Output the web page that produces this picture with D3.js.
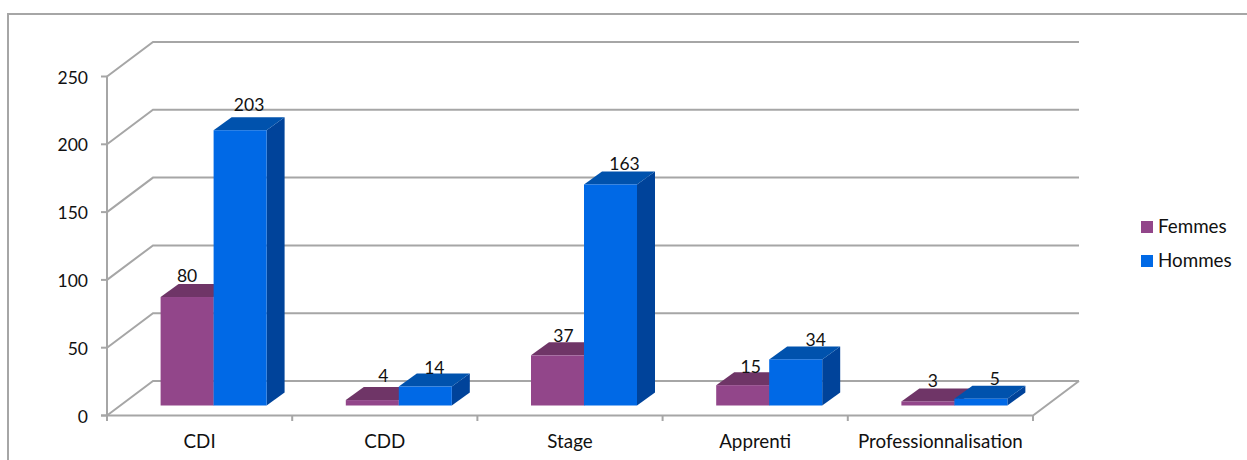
<!DOCTYPE html>
<html>
<head>
<meta charset="utf-8">
<script src="https://cdn.jsdelivr.net/npm/d3@7"></script>
<style>
  html, body { margin: 0; background: #fff; }
  text { font-family: Lato, "Noto Sans", sans-serif; font-size: 18.8px; fill: #111; }
  text.num { font-size: 17.5px; }
</style>
</head>
<body>
<svg id="chart" width="1247" height="460"></svg>
<script>
'use strict';

const categories = ['CDI', 'CDD', 'Stage', 'Apprenti', 'Professionnalisation'];
const femmes     = [80, 4, 37, 15, 3];
const hommes     = [203, 14, 163, 34, 5];
const yTicks     = [0, 50, 100, 150, 200, 250];

const SERIES = [
  { name: 'Femmes', values: femmes, front: '#92468a', top: '#6f3567', side: '#5f2c58', labelDx: [0, 11, 6, 8, 5], labelDy: [4, 1, 6, 7, 5] },
  { name: 'Hommes', values: hommes, front: '#0069e6', top: '#0052ad', side: '#00439a', labelDx: [9, 9, 14, 20, 14], labelDy: [0, 6, 5, 6, 5] },
];

const GRID  = '#a6a6a6';
const WALL  = { dx: 46, dy: 34.5 };   // depth of the floor
const DEPTH = { dx: 18, dy: 13 };     // depth of one bar
const BASE  = { dx: 14, dy: 10 };     // bar foot, measured from the front edge
const BAR_W = 53;

const svg = d3.select('#chart');

const x = d3.scaleBand().domain(categories).range([107, 1033]);
const y = d3.scaleLinear().domain([0, 250]).range([415.5, 76.5]);

// ── Frame ────────────────────────────────────────────────────
svg.append('path')
  .attr('d', 'M8,460V14H1247')
  .attr('fill', 'none').attr('stroke', GRID).attr('stroke-width', 2);

// ── Walls and gridlines ──────────────────────────────────────
const gridG = svg.append('g').attr('fill', 'none').attr('stroke', GRID).attr('stroke-width', 2);

gridG.selectAll('path').data(yTicks).join('path')
  .attr('d', d => {
    const p = d3.path();
    p.moveTo(107, y(d));
    p.lineTo(107 + WALL.dx, y(d) - WALL.dy);
    p.lineTo(1033 + WALL.dx, y(d) - WALL.dy);
    return p.toString();
  });

// floor edges and the left axis
gridG.append('path').attr('d', `M107,${y(250)}V421`);
gridG.append('path').attr('d', `M101,${y(0)}H1033L${1033 + WALL.dx},${y(0) - WALL.dy}`);

// ticks
gridG.selectAll('.ytick').data(yTicks).join('line')
  .attr('class', 'ytick')
  .attr('x1', 101).attr('x2', 107)
  .attr('y1', d => y(d)).attr('y2', d => y(d));

gridG.selectAll('.xtick').data(d3.range(categories.length + 1)).join('line')
  .attr('class', 'xtick')
  .attr('x1', i => 107 + i * x.step()).attr('x2', i => 107 + i * x.step())
  .attr('y1', y(0)).attr('y2', 421);

// ── Axis labels ──────────────────────────────────────────────
svg.append('g').selectAll('text').data(yTicks).join('text')
  .attr('class', 'num')
  .attr('x', 88).attr('y', d => y(d) + 7)
  .attr('text-anchor', 'end')
  .text(d => d);

svg.append('g').selectAll('text').data(categories).join('text')
  .attr('x', d => x(d) + x.bandwidth() / 2)
  .attr('y', 448)
  .attr('text-anchor', 'middle')
  .text(d => d);

// ── Bars ─────────────────────────────────────────────────────
function poly(pts) { return pts.map(p => p.join(',')).join(' '); }

categories.forEach((cat, i) => {
  const cx = x(cat) + x.bandwidth() / 2 + BASE.dx;

  SERIES.forEach((s, j) => {
    const x0 = cx - BAR_W + j * BAR_W;
    const x1 = x0 + BAR_W;
    const yb = y(0) - BASE.dy;
    const yt = y(s.values[i]) - BASE.dy;
    const g  = svg.append('g');

    g.append('polygon')
      .attr('points', poly([[x1, yb], [x1 + DEPTH.dx, yb - DEPTH.dy], [x1 + DEPTH.dx, yt - DEPTH.dy], [x1, yt]]))
      .attr('fill', s.side);
    g.append('polygon')
      .attr('points', poly([[x0, yt], [x0 + DEPTH.dx, yt - DEPTH.dy], [x1 + DEPTH.dx, yt - DEPTH.dy], [x1, yt]]))
      .attr('fill', s.top);
    g.append('rect')
      .attr('x', x0).attr('y', yt)
      .attr('width', BAR_W).attr('height', yb - yt)
      .attr('fill', s.front);
  });
});

// Labels go on top of every bar
categories.forEach((cat, i) => {
  const cx = x(cat) + x.bandwidth() / 2 + BASE.dx;
  SERIES.forEach((s, j) => {
    const xc = cx - BAR_W + j * BAR_W + BAR_W / 2;
    svg.append('text')
      .attr('class', 'num')
      .attr('x', xc + s.labelDx[i])
      .attr('y', y(s.values[i]) - BASE.dy - DEPTH.dy - 6 + s.labelDy[i])
      .attr('text-anchor', 'middle')
      .text(s.values[i]);
  });
});

// ── Legend ───────────────────────────────────────────────────
const legend = svg.append('g').selectAll('g').data(SERIES).join('g')
  .attr('transform', (d, i) => `translate(1141,${221 + i * 34})`);
legend.append('rect').attr('width', 12).attr('height', 12).attr('fill', d => d.front);
legend.append('text').attr('x', 17).attr('y', 12).text(d => d.name);
</script>
</body>
</html>
